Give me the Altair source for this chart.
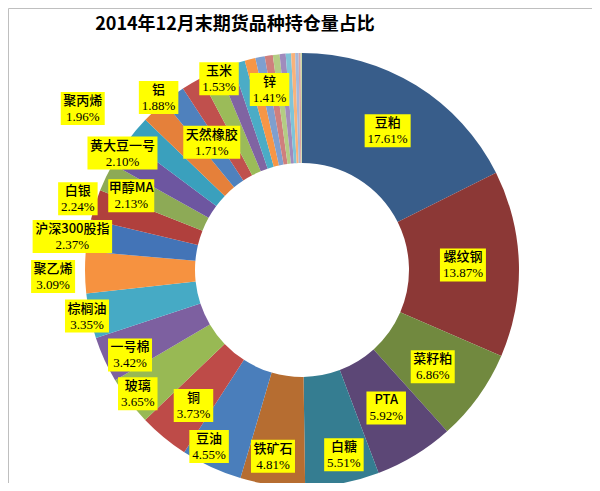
import altair as alt
import pandas as pd

TITLE = "2014年12月末期货品种持仓量占比"

NAMES = ["豆粕", "螺纹钢", "菜籽粕", "PTA", "白糖", "铁矿石", "豆油", "铜", "玻璃",
         "一号棉", "棕榈油", "聚乙烯", "沪深300股指", "白银", "甲醇MA", "黄大豆一号",
         "聚丙烯", "铝", "天然橡胶", "玉米", "锌",
         "其他1", "其他2", "其他3", "其他4", "其他5", "其他6", "其他7", "其他8",
         "其他9", "其他10", "其他11", "其他12"]
VALUES = [17.61, 13.87, 6.86, 5.92, 5.51, 4.81, 4.55, 3.73, 3.65,
          3.42, 3.35, 3.09, 2.37, 2.24, 2.13, 2.10,
          1.96, 1.88, 1.71, 1.53, 1.41,
          1.10, 0.95, 0.80, 0.70, 0.60, 0.50, 0.45, 0.40,
          0.30, 0.25, 0.15, 0.10]
COLORS = ["#385D8A", "#8C3836", "#71893F", "#5C4776", "#357D91", "#B66D31",
          "#4A7EBB", "#BE4B48", "#98B954", "#7D60A0", "#46AAC5", "#F69240",
          "#4374B7", "#B0403D", "#8DAA56", "#6D56A0", "#3AA0BD", "#E5803A",
          "#4F81BD", "#C0504D", "#9BBB59", "#8064A2", "#4BACC6", "#F79646",
          "#7F9FCF", "#CF7F7D", "#B4CC84", "#A08BBD", "#7FC4D8", "#F9B27A",
          "#A5B9DA", "#DBA3A2", "#C9D9A6"]

# label placement (radial distance in px, angular nudge in degrees) for labelled slices
LABEL_RADIUS = [163, 161, 163, 162, 190, 189, 200, 174, 206, 192, 220, 249,
                232, 235, 186, 214, 272, 224, 156, 208, 183]
LABEL_NUDGE = [0, 0, 1, 0, -2, 1, 3, -1, 0, -2, 0, -1,
               -1, 0, -2, 0, -4, 3, 1, 7, 15]

CX, CY = 294, 262
R_OUT, R_IN = 217, 107


def text_w(s, cjk=13, asc=7.5):
    return sum(cjk if ord(c) > 127 else asc for c in s)


def pct_w(s):
    w = 0
    for c in s:
        w += 10 if c == "%" else (3 if c == "." else 6.5)
    return w


rows = []
for i, (n, v) in enumerate(zip(NAMES, VALUES)):
    labeled = i < len(LABEL_RADIUS)
    p = f"{v:.2f}%"
    rows.append(dict(
        idx=i, name=n, value=v, pct=p,
        labeled=labeled,
        lr=LABEL_RADIUS[i] if labeled else 0,
        nudge=LABEL_NUDGE[i] if labeled else 0,
        boxw=max(text_w(n) + 5, pct_w(p) + 7),
    ))
df = pd.DataFrame(rows)

base = alt.Chart(df)

arcs = base.mark_arc(outerRadius=R_OUT, innerRadius=R_IN).encode(
    theta=alt.Theta("value:Q", stack=True),
    order=alt.Order("idx:Q"),
    color=alt.Color("name:N", scale=alt.Scale(domain=NAMES, range=COLORS), legend=None),
    x=alt.value(CX),
    y=alt.value(CY),
)

lab = (
    base.transform_joinaggregate(total="sum(value)")
    .transform_window(cum="sum(value)", sort=[alt.SortField("idx")], frame=[None, 0])
    .transform_filter("datum.labeled")
    .transform_calculate(ang="((datum.cum - datum.value/2)/datum.total)*2*PI + datum.nudge*PI/180")
    .transform_calculate(lx=f"{CX} + datum.lr*sin(datum.ang)")
    .transform_calculate(ly=f"{CY} - datum.lr*cos(datum.ang)")
    .transform_calculate(bx1="datum.lx - datum.boxw/2")
    .transform_calculate(bx2="datum.lx + datum.boxw/2")
    .transform_calculate(by1="datum.ly - 17")
    .transform_calculate(by2="datum.ly + 16")
)

boxes = lab.mark_rect(fill="#FFFF00").encode(
    x=alt.X("bx1:Q", scale=None),
    x2="bx2:Q",
    y=alt.Y("by1:Q", scale=None),
    y2="by2:Q",
)

names = lab.mark_text(dy=-8, font="Noto Sans CJK SC", fontSize=13, fontWeight=500,
                      color="#000000").encode(
    x=alt.X("lx:Q", scale=None),
    y=alt.Y("ly:Q", scale=None),
    text="name:N",
)

pcts = lab.mark_text(dy=8, font="Liberation Serif", fontSize=13, color="#000000").encode(
    x=alt.X("lx:Q", scale=None),
    y=alt.Y("ly:Q", scale=None),
    text="pct:N",
)

title = alt.Chart(pd.DataFrame({"t": [TITLE]})).mark_text(
    font="Noto Sans CJK SC", fontSize=18, fontWeight="bold", color="#000000"
).encode(x=alt.value(227), y=alt.value(17), text="t:N")

chart = alt.layer(arcs, boxes, names, pcts, title).properties(
    width=584, height=475, padding=0,
    autosize=alt.AutoSizeParams(type="none"),
).configure_view(stroke="#BFBFBF", strokeWidth=1)

chart.save("out.html", embed_options={"renderer": "svg", "actions": False})
